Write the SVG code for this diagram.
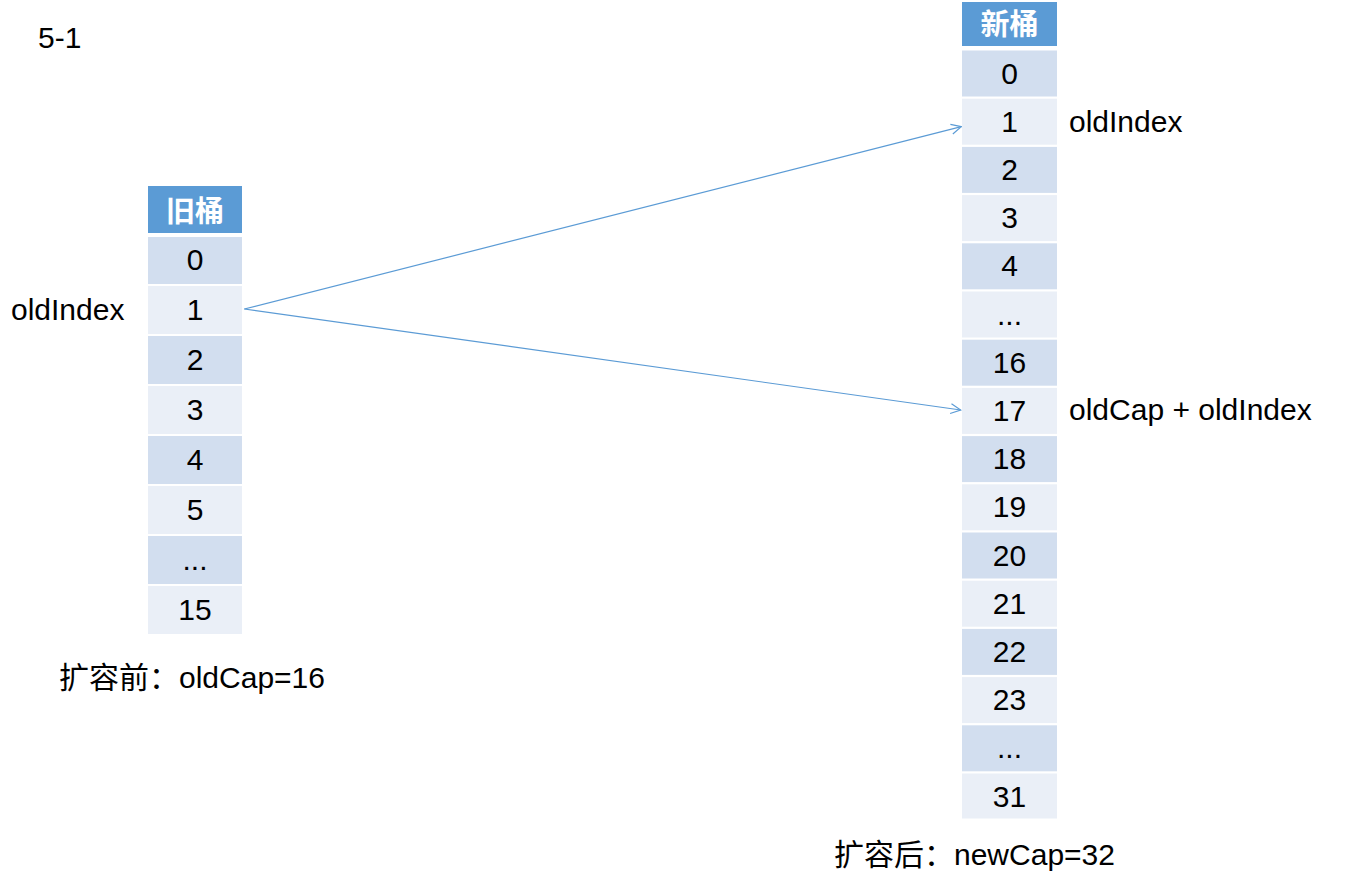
<svg xmlns="http://www.w3.org/2000/svg" width="1362" height="879" viewBox="0 0 1362 879">
<defs>
<style>
.t{font-family:"Liberation Sans",Arial,"Noto Sans CJK SC",sans-serif;font-size:30px;fill:#000}
.c{text-anchor:middle}
.h{font-family:"Noto Sans CJK SC","Liberation Sans",sans-serif;font-size:29px;font-weight:bold;fill:#fff;text-anchor:middle}
.hd{fill:#5B9BD5}
.b1{fill:#D2DEEF}
.b2{fill:#EAEFF7}
.ln{stroke:#5B9BD5;stroke-width:1.2;fill:none}
</style>
<marker id="ah" viewBox="0 0 12 12" refX="11" refY="6" markerWidth="12" markerHeight="12" markerUnits="userSpaceOnUse" orient="auto">
<path d="M1,1 L11,6 L1,11" fill="none" stroke="#5B9BD5" stroke-width="1.2"/>
</marker>
</defs>
<rect width="1362" height="879" fill="#fff"/>
<text class="t" x="38" y="48">5-1</text>

<g id="old-bucket">
<rect class="hd" x="148" y="186" width="94" height="47"/>
<text class="h" x="195" y="222">旧桶</text>
<rect class="b1" x="148" y="237" width="94" height="47"/>
<rect class="b2" x="148" y="286" width="94" height="48"/>
<rect class="b1" x="148" y="336" width="94" height="48"/>
<rect class="b2" x="148" y="386" width="94" height="48"/>
<rect class="b1" x="148" y="436" width="94" height="48"/>
<rect class="b2" x="148" y="486" width="94" height="48"/>
<rect class="b1" x="148" y="536" width="94" height="48"/>
<rect class="b2" x="148" y="586" width="94" height="48"/>
<text class="t c" x="195" y="270">0</text>
<text class="t c" x="195" y="320">1</text>
<text class="t c" x="195" y="370">2</text>
<text class="t c" x="195" y="420">3</text>
<text class="t c" x="195" y="470">4</text>
<text class="t c" x="195" y="520">5</text>
<text class="t c" x="195" y="570">...</text>
<text class="t c" x="195" y="620">15</text>
</g>

<g id="new-bucket">
<rect class="hd" x="962" y="2" width="95" height="44"/>
<text class="h" x="1009.5" y="35">新桶</text>
<rect class="b1" x="962" y="50.5" width="95" height="46"/>
<rect class="b2" x="962" y="98.7" width="95" height="46"/>
<rect class="b1" x="962" y="146.9" width="95" height="46"/>
<rect class="b2" x="962" y="195.1" width="95" height="46"/>
<rect class="b1" x="962" y="243.3" width="95" height="46"/>
<rect class="b2" x="962" y="291.5" width="95" height="46"/>
<rect class="b1" x="962" y="339.7" width="95" height="46"/>
<rect class="b2" x="962" y="387.9" width="95" height="46"/>
<rect class="b1" x="962" y="436.1" width="95" height="46"/>
<rect class="b2" x="962" y="484.3" width="95" height="46"/>
<rect class="b1" x="962" y="532.5" width="95" height="46"/>
<rect class="b2" x="962" y="580.7" width="95" height="46"/>
<rect class="b1" x="962" y="628.9" width="95" height="46"/>
<rect class="b2" x="962" y="677.1" width="95" height="46"/>
<rect class="b1" x="962" y="725.3" width="95" height="46"/>
<rect class="b2" x="962" y="773.5" width="95" height="45"/>
<text class="t c" x="1009.5" y="83.5">0</text>
<text class="t c" x="1009.5" y="131.7">1</text>
<text class="t c" x="1009.5" y="179.9">2</text>
<text class="t c" x="1009.5" y="228.1">3</text>
<text class="t c" x="1009.5" y="276.3">4</text>
<text class="t c" x="1009.5" y="324.5">...</text>
<text class="t c" x="1009.5" y="372.7">16</text>
<text class="t c" x="1009.5" y="420.9">17</text>
<text class="t c" x="1009.5" y="469.1">18</text>
<text class="t c" x="1009.5" y="517.3">19</text>
<text class="t c" x="1009.5" y="565.5">20</text>
<text class="t c" x="1009.5" y="613.7">21</text>
<text class="t c" x="1009.5" y="661.9">22</text>
<text class="t c" x="1009.5" y="710.1">23</text>
<text class="t c" x="1009.5" y="758.3">...</text>
<text class="t c" x="1009.5" y="806.5">31</text>
</g>

<g id="labels">
<text class="t" x="11" y="320">oldIndex</text>
<text class="t" x="1069" y="132">oldIndex</text>
<text class="t" x="1069" y="420">oldCap + oldIndex</text>
<text class="t" x="59" y="688">扩容前：oldCap=16</text>
<text class="t" x="834" y="865">扩容后：newCap=32</text>
</g>

<g id="connectors">
<line class="ln" x1="244.3" y1="309" x2="961.3" y2="126.7" marker-end="url(#ah)"/>
<line class="ln" x1="244.3" y1="309" x2="960.7" y2="410" marker-end="url(#ah)"/>
</g>
</svg>
